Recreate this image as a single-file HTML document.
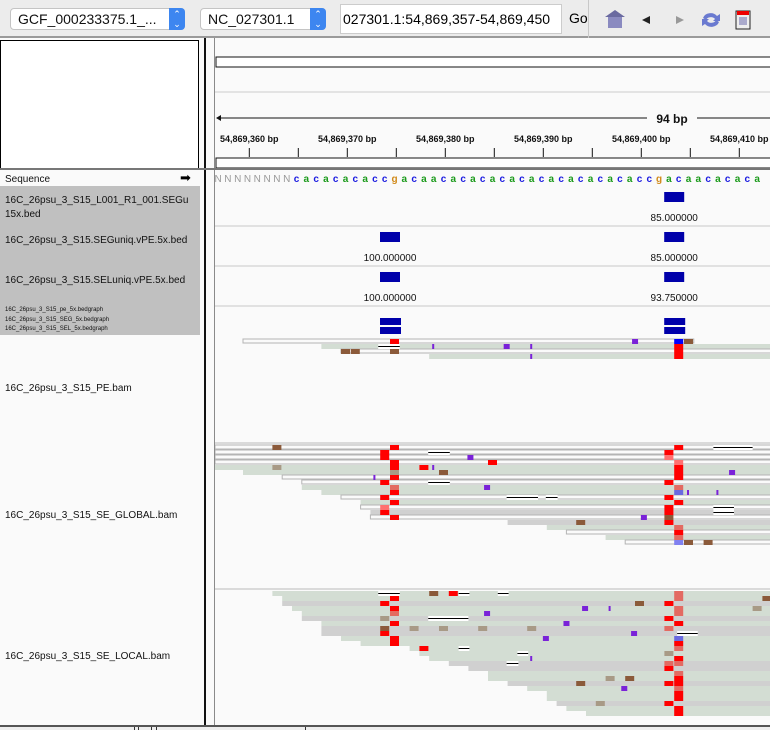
<!DOCTYPE html>
<html><head><meta charset="utf-8">
<style>
*{margin:0;padding:0;box-sizing:border-box}
body{width:770px;height:730px;overflow:hidden;background:#fafafa;font-family:"Liberation Sans",sans-serif;position:relative}
.abs{position:absolute}
.tb{left:0;top:0;width:770px;height:38px;background:#ececec;border-bottom:2px solid #9a9a9a}
.dd{background:#fff;border:1px solid #c4c4c4;border-radius:4px;height:22px;top:8px;font-size:14px;line-height:20px;padding-left:7px;color:#111}
.step{position:absolute;right:-1px;top:-1px;width:16px;height:22px;background:#3d86f0;border-radius:0 4px 4px 0;color:#fff;font-size:9px;line-height:10px;text-align:center;padding-top:1px}
.lbl{font-size:10px;color:#111;left:5px}
svg text{font-family:"Liberation Sans",sans-serif}
</style></head><body>
<div class="abs tb">
  <div class="abs dd" style="left:10px;width:175px">GCF_000233375.1_...<div class="step">&#8963;<br>&#8964;</div></div>
  <div class="abs dd" style="left:200px;width:126px">NC_027301.1<div class="step">&#8963;<br>&#8964;</div></div>
  <div class="abs" style="left:340px;top:4px;width:222px;height:30px;background:#fff;border:1px solid #ccc;font-size:14px;line-height:28px;padding-left:2px;overflow:hidden;white-space:nowrap">027301.1:54,869,357-54,869,450</div>
  <div class="abs" style="left:569px;top:10px;font-size:14px">Go</div>
  <div class="abs" style="left:588px;top:0;width:1px;height:38px;background:#c8c8c8"></div>
  <svg class="abs" style="left:600px;top:8px" width="160" height="24">
    <g><polygon points="5,9 15,2 25,9" fill="#6a6aa0"/><rect x="8" y="9" width="14" height="11" fill="#8a8ac0"/></g>
    <polygon points="42,12 50,8 50,16" fill="#222"/>
    <polygon points="76,8 84,12 76,16" fill="#999"/>
    <g><path d="M103,10 a8,7 0 0 1 14,-2 l3,-2 v7 h-7 l2,-2 a5,4 0 0 0 -9,1z" fill="#6a7ad0"/><path d="M119,14 a8,7 0 0 1 -14,2 l-3,2 v-7 h7 l-2,2 a5,4 0 0 0 9,-1z" fill="#6a7ad0"/></g>
    <g><rect x="136" y="3" width="14" height="18" fill="#eee" stroke="#222"/><rect x="137" y="3" width="12" height="4" fill="#e00"/><rect x="139" y="9" width="8" height="8" fill="#aac"/></g>
  </svg>
</div>

<div class="abs" style="left:0;top:40px;width:199px;height:129px;background:#fff;border:1px solid #000"></div>
<div class="abs" style="left:204px;top:38px;width:2px;height:688px;background:#111"></div>
<div class="abs" style="left:214px;top:38px;width:1px;height:688px;background:#8a8a8a"></div>
<div class="abs" style="left:199px;top:168px;width:571px;height:2px;background:#777"></div>
<div class="abs" style="left:0;top:168px;width:200px;height:2px;background:#777"></div>
<svg class="abs" style="left:215px;top:40px" width="555" height="128">
  <rect x="1" y="17" width="560" height="10" fill="#fff" stroke="#111"/>
  <line x1="0" y1="52" x2="555" y2="52" stroke="#ccc"/>
  <line x1="3" y1="78" x2="432" y2="78" stroke="#111"/>
  <line x1="482" y1="78" x2="555" y2="78" stroke="#111"/>
  <polygon points="1,78 6,75 6,81" fill="#111"/>
  <text x="457" y="83" font-size="12" font-weight="bold" text-anchor="middle" fill="#111">94 bp</text>
  <g id="ticks"></g>
  <rect x="1" y="118" width="560" height="10" fill="#fff" stroke="#111"/>
</svg>

<div class="abs" style="left:0;top:170px;width:204px;height:16px;background:#fafafa" ></div>
<div class="abs lbl" style="top:174px;font-size:10px">Sequence</div>
<div class="abs" style="left:180px;top:172px;font-size:13px;line-height:12px">&#10145;</div>
<div class="abs" style="left:0;top:186px;width:200px;height:149px;background:#c0c0c0">
  <div class="abs lbl" style="top:9px">16C_26psu_3_S15_L001_R1_001.SEGu</div>
  <div class="abs lbl" style="top:23px">15x.bed</div>
  <div class="abs lbl" style="top:49px">16C_26psu_3_S15.SEGuniq.vPE.5x.bed</div>
  <div class="abs lbl" style="top:89px">16C_26psu_3_S15.SELuniq.vPE.5x.bed</div>
  <div class="abs lbl" style="top:121px;font-size:6px">16C_26psu_3_S15_pe_5x.bedgraph</div>
  <div class="abs lbl" style="top:131px;font-size:6px">16C_26psu_3_S15_SEG_5x.bedgraph</div>
  <div class="abs lbl" style="top:140px;font-size:6px">16C_26psu_3_S15_SEL_5x.bedgraph</div>
</div>
<div class="abs lbl" style="top:383px">16C_26psu_3_S15_PE.bam</div>
<div class="abs lbl" style="top:510px">16C_26psu_3_S15_SE_GLOBAL.bam</div>
<div class="abs lbl" style="top:651px">16C_26psu_3_S15_SE_LOCAL.bam</div>

<svg id="data" class="abs" style="left:215px;top:170px" width="555" height="556"></svg>

<div class="abs" style="left:0;top:725px;width:770px;height:2px;background:#555"></div>
<div class="abs" style="left:0;top:727px;width:770px;height:3px;background:#eee"></div>
<div class="abs" style="left:134px;top:727px;width:1px;height:3px;background:#333"></div>
<div class="abs" style="left:138px;top:727px;width:14px;height:3px;border-left:1px solid #333;border-right:1px solid #333"></div>
<div class="abs" style="left:156px;top:727px;width:150px;height:3px;border-left:1px solid #333;border-right:1px solid #333"></div>

<script>
const NS="http://www.w3.org/2000/svg";
// ----- data -----
const refBp=54869374;
const tickBps=[54869360,54869365,54869370,54869375,54869380,54869385,54869390,54869395,54869400,54869405,54869410,54869415];
const tickLabels=["54,869,360 bp","54,869,370 bp","54,869,380 bp","54,869,390 bp","54,869,400 bp","54,869,410 bp"];
const sequence="NNNNNNNNcacacacaccgacaacacacacacacacacacacaccgacaacacaca";
const seqGIndex=18;
const bedFeatures=[[0,29,"85.000000"],[1,0,"100.000000"],[1,29,"85.000000"],[2,0,"100.000000"],[2,29,"93.750000"]];
const bedgraphBars=[[0,0],[0,29],[1,0],[1,29]];
const peReads=[[0,-15,31,"w"],[1,-7,40,"g"],[2,-5,40,"w"],[3,4,40,"g"]];
const peMarks=[[0,0,"T"],[0,24.7,"I"],[0,29,"C"],[0,30,"G"],[1,4,"i"],[1,11.6,"I"],[1,14,"i"],[1,29,"T"],[2,-5,"G"],[2,-4,"G"],[2,0,"G"],[2,29,"T"],[3,14,"i"],[3,29,"T"]];
const peDels=[[1,-1.2,1]];
const glReads=[[0,-18,40,"w"],[1,-18,40,"w"],[2,-18,40,"w"],[3,-18,40,"w"],[4,-18,40,"g"],[5,-15,40,"g"],[6,-11,40,"w"],[7,-9,40,"w"],[8,-9,40,"g"],[9,-7,40,"g"],[10,-5,40,"w"],[11,-3,40,"g"],[12,-3,40,"w"],[13,-2,40,"d"],[14,-2,40,"w"],[15,12,40,"d"],[16,16,40,"g"],[17,18,40,"w"],[18,22,40,"g"],[19,24,40,"w"]];
const glMarks=[[0,-12,"G"],[0,0,"T"],[0,29,"T"],[1,-1,"T"],[2,-1,"T"],[1,28,"T"],[2,28,"p"],[2,7.9,"I"],[3,0,"T"],[3,10,"T"],[3,29,"p"],[4,-12,"t"],[4,0,"T"],[4,3,"T"],[4,4,"i"],[4,29,"T"],[5,0,"t"],[5,5,"G"],[5,29,"T"],[5,34.6,"I"],[6,-2,"i"],[6,0,"T"],[6,29,"T"],[7,-1,"T"],[7,28,"T"],[8,0,"q"],[8,9.6,"I"],[8,29,"q"],[9,0,"T"],[9,29,"c"],[9,30,"i"],[9,33,"i"],[10,-1,"T"],[10,28,"T"],[11,0,"T"],[11,29,"T"],[12,-1,"p"],[12,28,"T"],[13,-1,"T"],[13,28,"T"],[14,0,"T"],[14,25.6,"I"],[14,28,"G"],[15,19,"G"],[15,28,"T"],[16,29,"q"],[17,29,"T"],[18,29,"q"],[19,29,"c2"],[19,30,"G"],[19,32,"G"]];
const glDels=[[0,33,37],[1,3.9,6.1],[7,3.9,6.1],[10,11.9,15.1],[10,15.9,17.1],[12,33,35.1],[13,33,35.1]];
const lcReads=[[0,-12,40,"g"],[1,-11,40,"g"],[2,-11,40,"d"],[3,-10,40,"g"],[4,-9,40,"g"],[5,-9,40,"d"],[6,-7,40,"g"],[7,-7,40,"d"],[8,-7,40,"d"],[9,-5,40,"g"],[10,-3,40,"g"],[11,2,40,"g"],[12,3,40,"g"],[13,4,40,"g"],[14,6,40,"d"],[15,8,40,"d"],[16,10,40,"g"],[17,10,40,"g"],[18,12,40,"d"],[19,14,40,"g"],[20,16,40,"g"],[21,16,40,"g"],[22,17,40,"d"],[23,18,40,"g"],[24,20,40,"g"]];
const lcMarks=[[0,4,"G"],[0,6,"T"],[0,29,"q"],[1,0,"T"],[1,29,"q"],[1,38,"G"],[2,-1,"T"],[2,25,"G"],[2,28,"T"],[3,0,"T"],[3,19.6,"I"],[3,22,"i"],[3,29,"q"],[3,37,"t"],[4,0,"q"],[4,9.6,"I"],[4,29,"q"],[5,-1,"t"],[5,28,"T"],[6,0,"T"],[6,17.7,"I"],[6,29,"T"],[7,-1,"G"],[7,2,"t"],[7,5,"t"],[7,9,"t"],[7,14,"t"],[7,28,"q"],[8,-1,"T"],[8,24.6,"I"],[9,0,"T"],[9,15.6,"I"],[9,29,"c"],[10,0,"T"],[10,29,"T"],[11,3,"T"],[11,29,"q"],[12,28,"t"],[13,14,"i"],[13,29,"T"],[14,28,"q"],[14,29,"q"],[15,28,"T"],[16,29,"q"],[17,22,"t"],[17,24,"G"],[17,29,"T"],[18,19,"G"],[18,28,"T"],[18,29,"T"],[19,23.6,"I"],[19,29,"q"],[20,29,"T"],[21,29,"T"],[22,21,"t"],[22,28,"T"],[23,29,"T"],[24,29,"T"]];
const lcDels=[[0,-1.2,1],[0,7,8.1],[0,11,12.1],[5,3.9,8],[8,29.3,31.4],[11,7,8.1],[12,13,14.1],[14,11.9,13.1]];

// ----- scales -----
const PX=9.8, X0=390-215;
function xOf(o){return X0+o*PX;}
function xBp(bp){return xOf(bp-refBp);}
const svg=document.getElementById('data');
function el(tag,attrs,parent){const e=document.createElementNS(NS,tag);for(const k in attrs)e.setAttribute(k,attrs[k]);(parent||svg).appendChild(e);return e;}

const tg=document.getElementById('ticks');
tickBps.forEach((bp,i)=>{const x=xBp(bp)-3.5;
  const t=el('line',{x1:x,y1:108,x2:x,y2:117,stroke:'#111'},tg);
  
  
  if(i%2===0){const lb=el('text',{x:x,y:102,'font-size':9,'font-weight':'bold','text-anchor':'middle',fill:'#111'},tg);lb.textContent=tickLabels[i/2];
    
    }
});

const col={N:'#999',c:'#1a1ae0',a:'#1a9a1a',g:'#d18a1a',t:'#e00'};
for(let i=0;i<sequence.length;i++){const ch=sequence[i];const x=xOf(i-seqGIndex)+4.5;if(x<2||x>560)continue;
  const t=el('text',{x:x,y:12,'font-size':10,'font-weight':ch==='N'?'normal':'bold','text-anchor':'middle',fill:col[ch]});t.textContent=ch;
  
  }

[56,96,136].forEach(y=>el('line',{x1:0,y1:y,x2:555,y2:y,stroke:'#c8c8c8'}));
[273,419].forEach(y=>el('line',{x1:0,y1:y,x2:555,y2:y,stroke:'#bbb'}));

bedFeatures.forEach(([tr,o,v])=>{const y0=16+tr*40+6;
  const r=el('rect',{x:xOf(o)-10,y:y0,width:20,height:10,fill:'#0000aa'});
  
  
  const t=el('text',{x:xOf(o),y:y0+29,'font-size':10,'text-anchor':'middle',fill:'#111'});t.textContent=v;
  
  });
bedgraphBars.forEach(([r,o])=>{const b=el('rect',{x:xOf(o)-10,y:148+r*9,width:21,height:7,fill:'#0000aa'});
  
  });

const fills={w:'#fafafa',g:'#d3ddd3',d:'#d0d0d0'};
const mc={T:'#ff0000',p:'#ff7070',q:'#e36a62',G:'#8b5a3a',t:'#a89a86',C:'#0000ff',c:'#6a6ae0',c2:'#8080f0',I:'#7a22d8',i:'#7a22d8'};
function drawTrack(y0,reads,marks,dels){
  reads.forEach(([r,s,e,k])=>{const x1=Math.max(0,xOf(s)),x2=Math.min(556,xOf(e));
    const a=el('rect',{x:x1,y:y0+r*5,width:x2-x1,height:k==='w'?4:5,fill:fills[k],stroke:k==='w'?'#b4b4b4':'none','stroke-width':1});
    
    });
  dels.forEach(([r,s,e])=>{el('rect',{x:xOf(s),y:y0+r*5,width:(e-s)*PX,height:5,fill:'#fff'});
    const d=el('line',{x1:xOf(s),y1:y0+r*5+2.5,x2:xOf(e),y2:y0+r*5+2.5,stroke:'#000','stroke-width':1});
    
    });
  marks.forEach(([r,o,k])=>{const w=k==='i'?2:(k==='I'?6:9);const x=k==='i'?xOf(o)+3:xOf(o);
    const m=el('rect',{x:x,y:y0+r*5,width:w,height:5,fill:mc[k]});
    
    });
}
drawTrack(169,peReads,peMarks,peDels);
drawTrack(275,glReads,glMarks,glDels);
drawTrack(421,lcReads,lcMarks,lcDels);
</script>
</body></html>
